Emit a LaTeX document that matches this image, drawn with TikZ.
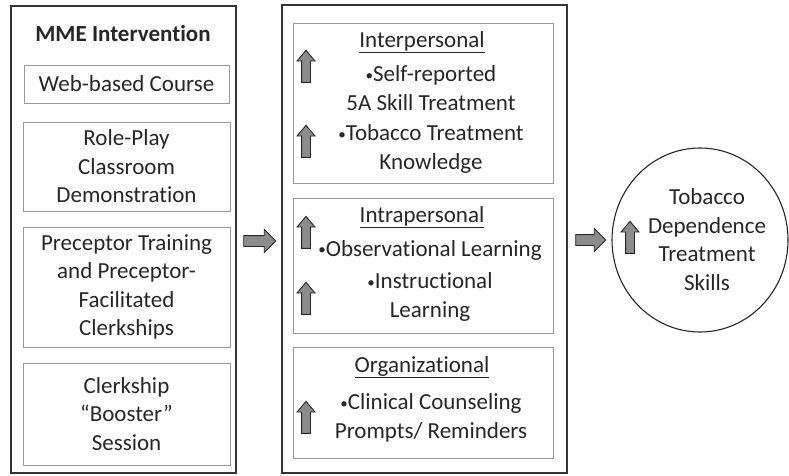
\documentclass[tikz,border=0pt]{standalone}
\usepackage{fontspec}
\setmainfont{Carlito}[Ligatures=NoCommon]
\usetikzlibrary{shapes.arrows,shapes.geometric}

\newcommand{\bul}{{\fontsize{15}{15}\selectfont\raisebox{1.5pt}{\textbullet}}}

\tikzset{
  every node/.style={font=\fontsize{23}{28.5}\selectfont, text=black!85},
  outerbox/.style={draw=black!80, line width=1.6pt, inner sep=0pt},
  innerbox/.style={draw=black!40, line width=0.9pt, inner sep=0pt, align=center},
  txt/.style={align=center, inner sep=0pt},
  uparrow/.style={single arrow, draw=black!85, fill=black!45, line width=0.9pt,
    inner xsep=0pt, inner ysep=4pt, minimum width=17pt, minimum height=32pt,
    single arrow head extend=4.5pt, single arrow tip angle=80, rotate=90},
  bigarrow/.style={single arrow, draw=black!85, fill=black!45, line width=0.9pt,
    inner xsep=0pt, inner ysep=5pt, minimum width=22pt, minimum height=32pt,
    single arrow head extend=6pt, single arrow tip angle=90}
}

\begin{document}
\begin{tikzpicture}[x=1pt,y=-1pt]
\useasboundingbox (0,0) rectangle (789,476);

% left column
\node[outerbox, minimum width=225pt, minimum height=467pt] (mme) at (123.5,239.5) {};
\node[txt, font=\fontsize{23}{28.5}\selectfont\bfseries] (mmetitle) at (123,34) {MME Intervention};
\node[innerbox, minimum width=205pt, minimum height=38pt] (web) at (126.5,84) {Web-based Course};
\node[innerbox, minimum width=207pt, minimum height=89pt] (role) at (126.5,166.5) {Role-Play\\Classroom\\Demonstration};
\node[innerbox, minimum width=207pt, minimum height=120pt] (prec) at (126.5,287) {Preceptor Training\\and Preceptor-\\Facilitated\\Clerkships};
\node[innerbox, minimum width=207pt, minimum height=102pt] (clerk) at (126.5,414) {Clerkship\\“Booster”\\Session};

% middle column
\node[outerbox, minimum width=285pt, minimum height=468pt] (mech) at (424.5,239) {};
\node[innerbox, minimum width=260pt, minimum height=160pt] (inter) at (423,103) {};
\node[innerbox, minimum width=260pt, minimum height=135pt] (intra) at (423,265.5) {};
\node[innerbox, minimum width=260pt, minimum height=111pt] (org) at (423,402.5) {};

\node[txt] (interhead) at (422,42) {\underline{Interpersonal}};
\node[txt] (selfrep) at (431,88) {\bul Self-reported\\5A Skill Treatment};
\node[txt] (knowl) at (431,149) {\bul Tobacco Treatment\\Knowledge};
\node[txt] (intrahead) at (422,217) {\underline{Intrapersonal}};
\node[txt] (observ) at (430,250) {\bul Observational Learning};
\node[txt] (instr) at (430,297) {\bul Instructional\\Learning};
\node[txt] (orghead) at (422,367) {\underline{Organizational}};
\node[txt] (prompts) at (431,418) {\bul Clinical Counseling\\Prompts/ Reminders};

\node[uparrow] (up1) at (306,69) {};
\node[uparrow] (up2) at (306,144) {};
\node[uparrow] (up3) at (306,235) {};
\node[uparrow] (up4) at (306,301) {};
\node[uparrow] (up5) at (306,420) {};

% outcome
\node[draw=black!85, line width=1.1pt, ellipse, minimum width=176pt, minimum height=184pt, inner sep=0pt] (skills) at (700,240) {};
\node[txt] (skilltxt) at (707,239.5) {Tobacco\\Dependence\\Treatment\\Skills};
\node[uparrow] (up6) at (630,240) {};

% block arrows between columns
\node[bigarrow] (arr1) at (257,241) {};
\node[bigarrow, minimum height=30pt] (arr2) at (588,240) {};
\end{tikzpicture}
\end{document}
